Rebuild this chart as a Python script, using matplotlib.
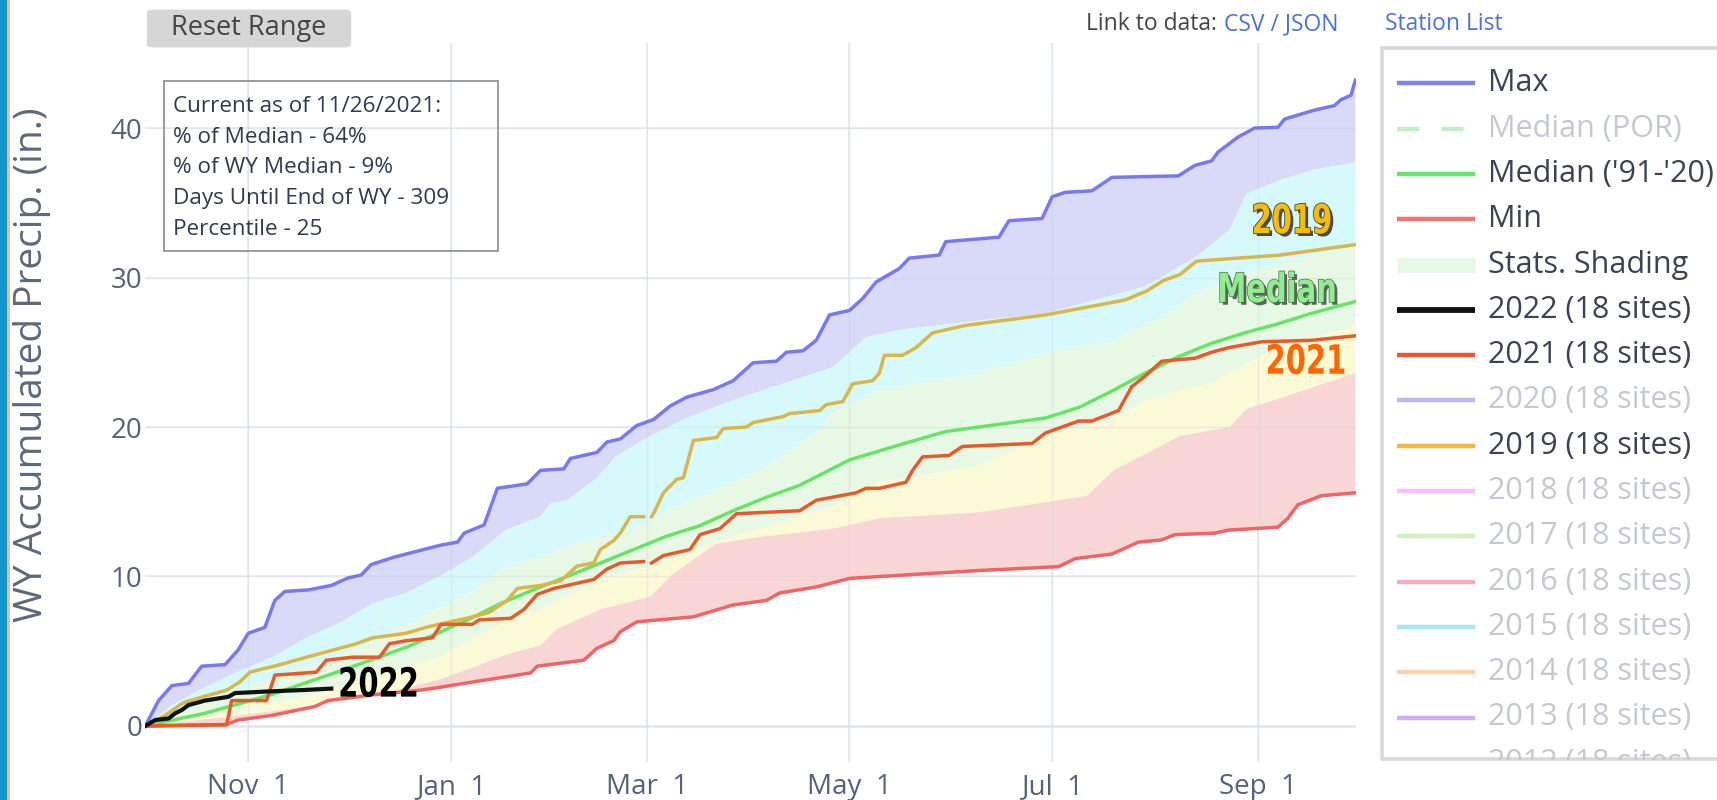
import numpy as np
import matplotlib
matplotlib.use("Agg")
import matplotlib.pyplot as plt
from matplotlib.patches import Rectangle, FancyBboxPatch
import matplotlib.patheffects as pe
from matplotlib.transforms import Affine2D
from matplotlib import font_manager
from matplotlib.font_manager import FontProperties

# ---------------- data (day of water year, Oct 1 = 0) ----------------
max_days = [0, 4, 8, 13, 17, 24, 28, 31, 36, 39, 42, 49, 56, 61, 65, 68, 75, 82, 89, 94, 96, 102, 106, 115,
            119, 126, 128, 136, 139, 143, 148, 153, 158, 163, 171, 177, 183, 190, 193, 198, 202, 206, 212,
            216, 220, 227, 230, 239, 241, 257, 260, 270, 273, 277, 285, 291, 311, 316, 321, 323, 329, 334,
            341, 343, 352, 358, 360, 363, 364.3]
max_vals = [0, 1.7, 2.7, 2.85, 4.0, 4.1, 5.1, 6.2, 6.6, 8.4, 9.0, 9.1, 9.4, 9.9, 10.1, 10.8, 11.3, 11.7, 12.1,
            12.3, 12.9, 13.45, 15.9, 16.2, 17.1, 17.2, 17.9, 18.3, 19.0, 19.2, 20.1, 20.5, 21.4, 22.0, 22.5,
            23.1, 24.3, 24.4, 25.0, 25.1, 25.8, 27.5, 27.8, 28.6, 29.7, 30.6, 31.3, 31.5, 32.4, 32.7, 33.8,
            33.95, 35.4, 35.7, 35.8, 36.7, 36.8, 37.5, 37.8, 38.4, 39.4, 40.0, 40.05, 40.6, 41.2, 41.5, 41.9,
            42.2, 43.2]

min_days = [0, 24, 28, 38, 51, 55, 69, 83, 89, 99, 109, 116, 118, 132, 136, 141, 143, 148, 165, 177, 187,
            191, 202, 212, 221, 251, 275, 280, 291, 299, 306, 310, 322, 326, 341, 344, 347, 354, 364.3]
min_vals = [0, 0.07, 0.4, 0.7, 1.3, 1.7, 2.1, 2.4, 2.6, 2.96, 3.3, 3.55, 4.0, 4.4, 5.2, 5.7, 6.3, 6.97, 7.3,
            8.1, 8.4, 8.9, 9.3, 9.87, 10.0, 10.4, 10.66, 11.2, 11.5, 12.3, 12.45, 12.8, 12.9, 13.1, 13.3,
            13.9, 14.8, 15.4, 15.6]

median_days = [0, 18, 38, 59, 79, 99, 107, 119, 127, 147, 157, 167, 177, 187, 197, 212, 227, 241, 271, 281,
               291, 301, 311, 321, 331, 341, 351, 364.3]
median_vals = [0, 0.85, 2.1, 3.7, 5.3, 7.3, 8.2, 9.3, 10.0, 11.8, 12.7, 13.4, 14.4, 15.3, 16.1, 17.8, 18.8,
               19.7, 20.6, 21.3, 22.4, 23.6, 24.7, 25.6, 26.3, 26.9, 27.6, 28.4]

wy2022_days = [0, 3, 7, 9, 11, 13, 18, 25, 27, 36, 47, 56]
wy2022_vals = [0, 0.4, 0.5, 0.85, 1.07, 1.4, 1.7, 1.95, 2.2, 2.3, 2.4, 2.5]

wy2021_days = [0, 24.5, 26, 36.5, 39, 51.5, 54.5, 62.5, 70.5, 73.5, 78.5, 86.5, 89, 98.5, 100.5, 110, 114, 118,
               123, 135, 139, 143, 150, 151, 152.4, 156, 164, 167, 173, 178, 197, 202, 214, 217, 221, 229,
               231, 234, 242, 246, 267, 271, 281, 285, 293, 297, 301, 306, 316, 321, 326, 336, 351, 364.3]
wy2021_vals = [0, 0.1, 1.7, 1.7, 3.4, 3.6, 4.4, 4.6, 4.6, 5.5, 5.7, 5.9, 6.8, 6.8, 7.1, 7.2, 7.8, 8.8, 9.2, 9.8,
               10.5, 10.9, 11.0, np.nan, 10.9, 11.4, 11.8, 12.8, 13.2, 14.2, 14.4, 15.1, 15.6, 15.9, 15.9,
               16.3, 17.1, 18.0, 18.1, 18.7, 18.9, 19.6, 20.4, 20.4, 21.1, 22.7, 23.4, 24.4, 24.6, 25.0,
               25.3, 25.7, 25.8, 26.1]

wy2019_days = [0, 6, 11, 13.5, 24.5, 28.5, 31.5, 40.5, 48.5, 58.5, 63.5, 68.5, 78.5, 84.5, 90.5, 98.5, 103.5,
               109, 112, 119, 125, 130, 135, 137, 141, 143, 146, 150, 151, 152.4, 153, 156, 160, 162, 165,
               172, 174, 181, 183, 192, 194, 203, 205, 210, 213, 219, 221, 222.5, 228, 232, 237, 247, 271,
               295, 301.5, 306.5, 311.5, 316.5, 341.5, 364.3]
wy2019_vals = [0, 0.7, 1.5, 1.7, 2.4, 2.95, 3.6, 4.1, 4.6, 5.2, 5.5, 5.9, 6.2, 6.6, 6.9, 7.3, 7.6, 8.4, 9.2,
               9.4, 9.7, 10.7, 10.9, 11.8, 12.4, 12.9, 14.0, 14.0, np.nan, 14.0, 14.2, 15.6, 16.5, 16.6,
               19.1, 19.3, 19.9, 20.0, 20.3, 20.7, 20.9, 21.1, 21.5, 21.7, 22.9, 23.1, 23.6, 24.8, 24.8,
               25.3, 26.3, 26.8, 27.5, 28.5, 29.1, 29.8, 30.2, 31.1, 31.5, 32.2]

# statistical shading boundaries (percentiles)
p90_days = [0, 8, 18, 28.5, 38.5, 48.5, 58.5, 68.5, 78.5, 88.5, 98.5, 108.5, 119, 122, 127, 136, 141.5, 152,
            162, 177, 192, 207, 217, 227, 250, 271, 301, 316.5, 326.5, 331.5, 341.5, 351.5, 364.3]
p90_vals = [0, 1.4, 2.6, 3.7, 4.6, 5.9, 6.9, 8.2, 8.9, 10.0, 11.3, 13.1, 14.0, 14.9, 15.1, 16.6, 18.0, 19.4,
            20.5, 21.8, 22.9, 24.0, 26.0, 26.5, 27.1, 27.6, 29.4, 31.4, 33.2, 35.6, 36.5, 37.2, 37.7]

p70_days = [0, 10, 28.5, 48.5, 68.5, 88.5, 98.5, 107, 119, 127, 137, 145, 157, 162, 187, 204, 207, 217, 221,
            250, 271, 291.5, 306.5, 316.5, 331.5, 346.5, 364.3]
p70_vals = [0, 0.9, 2.4, 4.0, 5.6, 7.9, 9.0, 10.5, 11.3, 12.0, 12.7, 13.0, 14.4, 14.9, 17.3, 20.0, 21.1, 22.0,
            22.5, 23.6, 24.9, 25.8, 27.4, 29.0, 30.3, 31.2, 32.1]

p30_days = [0, 10, 28.5, 48.5, 68.5, 88.5, 98.5, 109, 119, 137, 157, 172, 187, 207, 221, 251, 271, 291, 301,
            321.5, 341.5, 364.3]
p30_vals = [0, 0.4, 1.1, 2.0, 3.3, 4.6, 5.8, 7.0, 7.8, 9.8, 11.1, 12.4, 13.3, 14.7, 16.3, 17.4, 19.4, 20.5,
            21.8, 23.0, 25.4, 26.7]

p10_days = [0, 10, 28.5, 48.5, 68.5, 88.5, 98.5, 109, 119, 124, 137, 152, 159, 172, 187, 207, 221, 251, 275,
            283.5, 291.5, 311.5, 326.5, 331.5, 364.3]
p10_vals = [0, 0.25, 0.7, 1.3, 2.0, 3.1, 3.9, 4.8, 5.4, 6.5, 7.8, 8.65, 10.2, 12.2, 12.7, 13.2, 13.9, 14.3,
            15.1, 15.4, 17.1, 19.4, 20.0, 21.2, 23.6]

x_tick_days = [31, 92, 151, 212, 273, 335]
x_tick_labels = ["Nov  1", "Jan  1", "Mar  1", "May  1", "Jul  1", "Sep  1"]
y_ticks = [0, 10, 20, 30, 40]

legend_labels = ["Max", "Median (POR)", "Median ('91-'20)", "Min", "Stats. Shading",
                 "2022 (18 sites)", "2021 (18 sites)", "2020 (18 sites)", "2019 (18 sites)",
                 "2018 (18 sites)", "2017 (18 sites)", "2016 (18 sites)", "2015 (18 sites)",
                 "2014 (18 sites)", "2013 (18 sites)", "2012 (18 sites)"]
legend_colors = ["#8282f2", "#bff2bf", "#6ae46a", "#f27272", "#e6f8e6", "#111111", "#ee5533",
                 "#b8b8f8", "#f9b540", "#ffbcff", "#d2f0bc", "#ffaabb", "#a2e9f3", "#ffd0ab",
                 "#d2acf7", "#f5c7a5"]
legend_active = [True, False, True, True, True, True, True, False, True,
                 False, False, False, False, False, False, False]

info_lines = ["Current as of 11/26/2021:", "% of Median - 64%", "% of WY Median - 9%",
              "Days Until End of WY - 309", "Percentile - 25"]

# ---------------- figure ----------------
W, H = 1717, 800
fig = plt.figure(figsize=(W / 100, H / 100), dpi=100)
fig.patch.set_facecolor("white")
plt.rcParams["font.family"] = ["Open Sans", "DejaVu Sans"]


def fx(px):
    return px / W


def fy(py):
    return 1 - py / H


# find a condensed / narrow bold sans face for the hand-made annotations
narrow_path = None
best = -1
for f in font_manager.fontManager.ttflist:
    nm = f.name.lower()
    if "serif" in nm or "mono" in nm:
        continue
    w = f.weight if isinstance(f.weight, int) else (700 if "bold" in str(f.weight) else 400)
    cond = ("narrow" in nm or "condensed" in nm or str(f.stretch) in ("condensed", "semi-condensed")
            or "condensed" in f.fname.lower() or "narrow" in f.fname.lower())
    if w >= 600 and f.style == "normal" and cond:
        score = 2 if "liberation" in nm else 1
        if score > best:
            best = score
            narrow_path = f.fname
if narrow_path:
    ann_fp = FontProperties(fname=narrow_path, size=29)
    squeeze_x = 0.8
else:
    ann_fp = FontProperties(family=["Liberation Sans", "DejaVu Sans"], weight="bold", size=29)
    squeeze_x = 0.75


class Squeeze(pe.AbstractPathEffect):
    """Compress glyph outlines horizontally about their own centre."""

    def __init__(self, sx, effects):
        super().__init__()
        self.sx = sx
        self.effects = effects

    def draw_path(self, renderer, gc, tpath, affine, rgbFace=None):
        ext = tpath.get_extents()
        cx = 0.5 * (ext.x0 + ext.x1)
        aff = Affine2D().translate(-cx, 0).scale(self.sx, 1).translate(cx, 0) + affine
        for e in self.effects:
            e.draw_path(renderer, gc, tpath, aff, rgbFace)


ax = fig.add_axes([fx(145.3), fy(762), fx(1356) - fx(145.3), (762 - 43) / H])
ax.set_xlim(0, 364.5)
ax.set_ylim(-2.41, 45.69)
for s in ax.spines.values():
    s.set_visible(False)

grid_c = "#e9eef7"
for d in x_tick_days:
    ax.axvline(d, color=grid_c, lw=1.3, zorder=0.5)
for v in y_ticks:
    ax.axhline(v, color=grid_c, lw=2.2 if v == 0 else 1.3, zorder=0.5)


def band(xa, ya, xb, yb, color):
    xs = np.r_[np.asarray(xa, float), np.asarray(xb, float)[::-1]]
    ys = np.r_[np.asarray(ya, float), np.asarray(yb, float)[::-1]]
    ax.fill(xs, ys, color=color, lw=0, zorder=1)


band(max_days, max_vals, p90_days, p90_vals, "#d9d9f8")
band(p90_days, p90_vals, p70_days, p70_vals, "#d6fafb")
band(p70_days, p70_vals, p30_days, p30_vals, "#e7f9e5")
band(p30_days, p30_vals, p10_days, p10_vals, "#fafad7")
band(p10_days, p10_vals, min_days, min_vals, "#f9d6d6")

# faint gridlines through the translucent shading
for d in x_tick_days:
    ax.axvline(d, color="#c8cde0", lw=1.0, alpha=0.3, zorder=1.5)
for v in y_ticks:
    ax.axhline(v, color="#c8cde0", lw=1.0, alpha=0.3, zorder=1.5)

lw = 2.5
ax.plot(max_days, max_vals, color="#7878f0", lw=lw, zorder=3, solid_joinstyle="round")
ax.plot(min_days, min_vals, color="#f06464", lw=lw, zorder=3, solid_joinstyle="round")
ax.plot(median_days, median_vals, color="#66e466", lw=lw, zorder=3.2, solid_joinstyle="round")
ax.plot(wy2019_days, wy2019_vals, color="#d9b54a", lw=lw, zorder=3.3, solid_joinstyle="round")
ax.plot(wy2021_days, wy2021_vals, color="#e85a2a", lw=lw, zorder=3.4, solid_joinstyle="round")
ax.plot(wy2022_days, wy2022_vals, color="#111111", lw=3.0, zorder=3.6, solid_joinstyle="round")

ax.set_xticks(x_tick_days)
ax.set_xticklabels(x_tick_labels)
ax.set_yticks(y_ticks)
ax.set_yticklabels([str(v) for v in y_ticks])
ax.tick_params(axis="both", length=0, labelsize=20, colors="#56627a")
ax.tick_params(axis="y", pad=2)
ax.tick_params(axis="x", pad=8)

# annotations
ann_kw = dict(fontproperties=ann_fp, ha="center", va="center", zorder=6)
ax.text(345.2, 33.7, "2019", color="#f7be00",
        path_effects=[Squeeze(squeeze_x, [
            pe.SimplePatchShadow(offset=(2, -2), shadow_rgbFace="#222222", alpha=0.8),
            pe.Stroke(linewidth=1.2, foreground="#444444"), pe.Normal()])], **ann_kw)
ax.text(340.7, 29.1, "Median", color="#90ee90",
        path_effects=[Squeeze(squeeze_x, [
            pe.SimplePatchShadow(offset=(2, -2), shadow_rgbFace="#222222", alpha=0.7),
            pe.Stroke(linewidth=1.0, foreground="#4a6a4a"), pe.Normal()])], **ann_kw)
ax.text(349.4, 24.3, "2021", color="#ff6600",
        path_effects=[Squeeze(squeeze_x, [pe.Normal()])], **ann_kw)
ax.text(70.2, 2.7, "2022", color="#000000",
        path_effects=[Squeeze(squeeze_x, [pe.Normal()])], **ann_kw)

# y label
fig.text(fx(32), fy(365), "WY Accumulated Precip. (in.)", rotation=90, ha="center", va="center",
         fontsize=28, color="#5d6878")

# info box
fig.patches.append(Rectangle((fx(164), fy(250.7)), (498 - 164) / W, (250.7 - 80.7) / H,
                             transform=fig.transFigure, fc="none", ec="#9a9a9a", lw=1.4))
for i, t in enumerate(info_lines):
    fig.text(fx(173), fy(106.7 + i * 30.6), t, ha="left", va="center", fontsize=16.2, color="#2f3a4f")

# Reset Range button
fig.patches.append(FancyBboxPatch((fx(152), fy(45)), (346 - 152) / W, (45 - 12) / H,
                                  boxstyle="round,pad=0.003,rounding_size=0.004",
                                  transform=fig.transFigure, fc="#d6d6d6", ec="none"))
fig.text(fx(249), fy(28), "Reset Range", ha="center", va="center", fontsize=19.5, color="#444444")

# links
fig.text(fx(1217), fy(24), "Link to data:", ha="right", va="center", fontsize=16.5, color="#444444")
fig.text(fx(1224), fy(24), "CSV / JSON", ha="left", va="center", fontsize=16.5, color="#4a73d9")
fig.text(fx(1385), fy(24), "Station List", ha="left", va="center", fontsize=16.5, color="#4a73d9")

# left window border decoration
fig.patches.append(Rectangle((0, 0), fx(7), 1, transform=fig.transFigure, fc="#1596c8", ec="none"))
fig.patches.append(Rectangle((fx(7), 0), fx(2.5), 1, transform=fig.transFigure, fc="#e6c27c", ec="none"))

# legend panel
lax = fig.add_axes([fx(1380), fy(760), 1 - fx(1380), (760 - 46.5) / H])
lax.set_xlim(1380, 1717)
lax.set_ylim(760, 46.5)
lax.axis("off")
lax.add_patch(Rectangle((1381.5, 47.5), 400, 711.5, fc="white", ec="#d9d9d9", lw=2.6, zorder=0, clip_on=False))
for i, (lab, col, act) in enumerate(zip(legend_labels, legend_colors, legend_active)):
    yy = 83.3 + i * 45.3
    if lab == "Stats. Shading":
        lax.plot([1397, 1475], [yy, yy], color=col, lw=11, solid_capstyle="butt", zorder=2)
    elif lab == "Median (POR)":
        lax.plot([1397, 1475], [yy, yy], color=col, lw=3.2, dashes=(5, 5), zorder=2)
    else:
        lax.plot([1397, 1475], [yy, yy], color=col, lw=4.2 if lab.startswith("2022") else 3.2,
                 solid_capstyle="butt", zorder=2)
    lax.text(1488, yy, lab, ha="left", va="center", fontsize=22,
             color="#3a4253" if act else "#c3c8d1", clip_on=True, zorder=3)

fig.savefig("out.png", dpi=100, facecolor="white")
